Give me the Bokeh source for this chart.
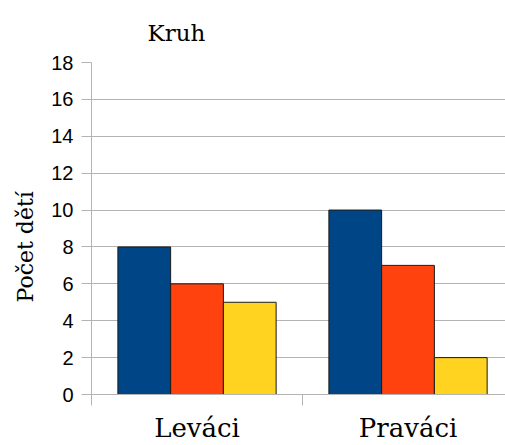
from bokeh.plotting import figure
from bokeh.models import FixedTicker, Range1d, ColumnDataSource, Title
from bokeh.embed import file_html
from bokeh.resources import INLINE

categories = ["Leváci", "Praváci"]
series_names = ["Řada 1", "Řada 2", "Řada 3"]
series_values = [
    [8, 10],   # blue
    [6, 7],    # orange
    [5, 2],    # yellow
]
series_colors = ["#004586", "#ff420e", "#ffd320"]
y_ticks = [0, 2, 4, 6, 8, 10, 12, 14, 16, 18]
title_text = "Kruh"
y_label = "Počet dětí"

GRAY = "#b3b3b3"
SERIF = "DejaVu Serif"
bar_w = 0.25

p = figure(width=505, height=445, output_backend="svg", toolbar_location=None,
           x_range=Range1d(0, 1.962), y_range=Range1d(0, 18),
           min_border_left=91, min_border_top=61, min_border_bottom=51,
           min_border_right=0)
p.outline_line_color = None

for j, (name, vals, col) in enumerate(zip(series_names, series_values, series_colors)):
    xs = [i + 0.5 + (j - 1) * bar_w for i in range(len(categories))]
    src = ColumnDataSource(dict(x=xs, top=vals))
    p.vbar(x="x", top="top", bottom=0, width=bar_w, source=src,
           fill_color=col, line_color="#1a1a1a", line_width=1)

# title
p.title.text = title_text
p.title.text_font = SERIF
p.title.text_font_size = "23px"
p.title.text_font_style = "normal"
p.title.text_color = "#000000"
p.title.align = "left"
p.title.offset = 56
p.title.standoff = 34

# x axis
xa = p.xaxis[0]
xa.ticker = FixedTicker(ticks=[i + 0.5 for i in range(len(categories))],
                        minor_ticks=list(range(len(categories) + 1)))
xa.major_label_overrides = {i + 0.5: c for i, c in enumerate(categories)}
xa.major_tick_out = 0
xa.major_tick_in = 0
xa.minor_tick_out = 11
xa.minor_tick_in = 0
xa.minor_tick_line_color = GRAY
xa.axis_line_color = GRAY
xa.major_label_text_font = SERIF
xa.major_label_text_font_size = "26px"
xa.major_label_text_color = "#000000"
xa.major_label_standoff = 7
p.xgrid.grid_line_color = None

# y axis
ya = p.yaxis[0]
ya.ticker = FixedTicker(ticks=y_ticks)
ya.major_tick_out = 10
ya.major_tick_in = 0
ya.minor_tick_line_color = None
ya.major_tick_line_color = GRAY
ya.axis_line_color = GRAY
ya.major_label_text_font = "Liberation Sans"
ya.major_label_text_font_size = "20px"
ya.major_label_text_color = "#000000"
ya.major_label_standoff = 8
p.ygrid.grid_line_color = GRAY
p.ygrid.grid_line_width = 1

# y axis title as a side title, shifted a little below the frame centre
p.add_layout(Title(text=y_label, align="left", offset=92, standoff=21,
                   text_font=SERIF, text_font_size="22px",
                   text_font_style="normal", text_color="#000000"), "left")

open("out.html", "w").write(file_html(p, INLINE))
